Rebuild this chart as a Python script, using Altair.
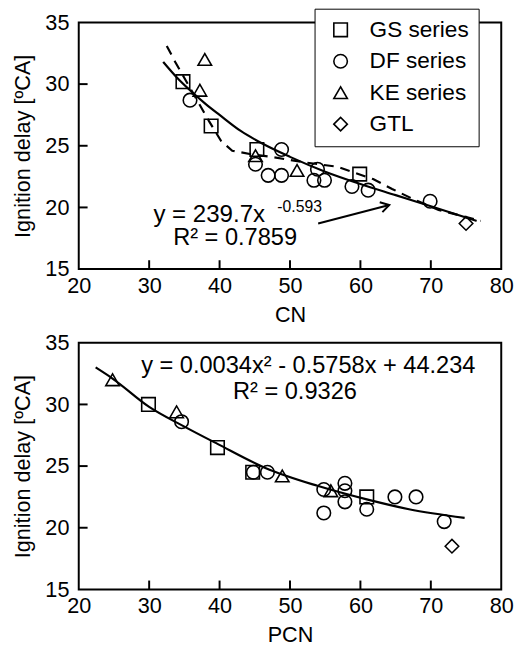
import altair as alt
import pandas as pd

FONT = "Liberation Sans"
series_names = ["GS series", "DF series", "KE series", "GTL"]
shape_range = ["square", "circle", "triangle-up", "diamond"]

# ---------- top panel: CN ----------
gs_cn = [34.8, 38.8, 45.3, 59.9]
gs_cn_id = [30.2, 26.6, 24.7, 22.7]
df_cn = [35.8, 45.1, 48.8, 46.9, 48.8, 53.9, 53.4, 54.9, 58.8, 61.1, 69.9]
df_cn_id = [28.7, 23.5, 24.7, 22.6, 22.6, 23.1, 22.2, 22.2, 21.7, 21.4, 20.5]
ke_cn = [37.9, 37.2, 45.1, 51.0]
ke_cn_id = [32.0, 29.5, 24.2, 23.0]
gtl_cn = [75.0]
gtl_cn_id = [18.7]

fit_cn_x = [32.0, 34.0, 36.0, 38.0, 40.0, 43.0, 46.0, 50.0, 55.0, 60.0, 65.0, 70.0, 76.5]
fit_cn_y = [31.8, 30.5, 29.4, 28.4, 27.5, 26.2, 25.2, 24.1, 22.9, 21.9, 21.0, 20.1, 18.9]

dash_cn_x = [32.5, 33.7, 36.0, 38.5, 40.2, 41.8, 44.6, 47.4, 51.5, 56.7, 61.8, 64.5, 67.4, 71.1, 77.1]
dash_cn_y = [33.1, 31.8, 29.5, 27.0, 25.4, 24.6, 24.3, 24.1, 23.7, 23.3, 22.3, 21.5, 20.7, 19.8, 18.9]

# ---------- bottom panel: PCN ----------
gs_pcn = [29.9, 39.7, 44.7, 60.9]
gs_pcn_id = [30.0, 26.5, 24.5, 22.5]
df_pcn = [34.6, 44.8, 46.8, 54.8, 54.8, 57.8, 57.8, 57.8, 60.9, 64.9, 67.9, 71.9]
df_pcn_id = [28.6, 24.5, 24.5, 23.1, 21.2, 23.6, 23.0, 22.1, 21.5, 22.5, 22.5, 20.5]
ke_pcn = [24.8, 33.9, 48.9, 55.8]
ke_pcn_id = [32.0, 29.4, 24.2, 23.0]
gtl_pcn = [73.0]
gtl_pcn_id = [18.5]

fit_pcn_x = [22.4, 24.8, 30.0, 35.0, 39.7, 46.5, 53.9, 60.9, 66.9, 74.8]
fit_pcn_y = [33.0, 32.1, 29.8, 28.2, 26.8, 24.85, 23.4, 22.3, 21.5, 20.8]

x_ticks = [20, 30, 40, 50, 60, 70, 80]
y_ticks = [15, 20, 25, 30, 35]
inner_x = [30, 40, 50, 60, 70]
inner_y = [20, 25, 30]


def pts(xs_list, ys_list):
    rows = []
    for name, xs, ys in zip(series_names, xs_list, ys_list):
        for a, b in zip(xs, ys):
            rows.append({"x": a, "y": b, "series": name})
    return pd.DataFrame(rows)


top_pts = pts([gs_cn, df_cn, ke_cn, gtl_cn], [gs_cn_id, df_cn_id, ke_cn_id, gtl_cn_id])
bot_pts = pts([gs_pcn, df_pcn, ke_pcn, gtl_pcn], [gs_pcn_id, df_pcn_id, ke_pcn_id, gtl_pcn_id])

W, H = 430, 251

xscale = alt.Scale(domain=[20, 80], nice=False, zero=False)
yscale = alt.Scale(domain=[15, 35], nice=False, zero=False)


def xaxis(title):
    return alt.Axis(values=x_ticks, tickSize=0, grid=False, domain=False, labelFont=FONT,
                    labelFontSize=22, labelColor="black", labelPadding=7, title=title,
                    titleFont=FONT, titleFontSize=22, titleFontWeight="normal",
                    titleColor="black", titlePadding=8, labelFlush=False)


yaxis = alt.Axis(values=y_ticks, tickSize=0, grid=False, domain=False, labelFont=FONT,
                 labelFontSize=22, labelColor="black", labelPadding=10,
                 title="Ignition delay [ºCA]", titleFont=FONT, titleFontSize=22,
                 titleFontWeight="normal", titleColor="black", titlePadding=11)


def panel(points, fit_x, fit_y, xtitle, legend):
    base_pts = alt.Chart(points).mark_point(filled=False, color="black", strokeWidth=1.6,
                                             size=190, opacity=1).encode(
        x=alt.X("x:Q", scale=xscale, axis=xaxis(xtitle)),
        y=alt.Y("y:Q", scale=yscale, axis=yaxis),
        shape=alt.Shape("series:N", scale=alt.Scale(domain=series_names, range=shape_range),
                        legend=legend),
    )
    fit = alt.Chart(pd.DataFrame({"x": fit_x, "y": fit_y})).mark_line(
        color="black", strokeWidth=2.2, interpolate="monotone").encode(
        x=alt.X("x:Q", scale=xscale), y=alt.Y("y:Q", scale=yscale))
    tx = alt.Chart(pd.DataFrame({"v": inner_x})).mark_rule(color="black", strokeWidth=2).encode(
        x=alt.X("v:Q", scale=xscale), y=alt.value(H), y2=alt.value(H - 9))
    ty = alt.Chart(pd.DataFrame({"v": inner_y})).mark_rule(color="black", strokeWidth=2).encode(
        y=alt.Y("v:Q", scale=yscale), x=alt.value(0), x2=alt.value(9))
    return fit, tx, ty, base_pts


legend = alt.Legend(orient="none", legendX=240, legendY=-14, title=None,
                    labelFont=FONT, labelFontSize=23, labelColor="black",
                    symbolSize=190, symbolStrokeWidth=1.6, symbolStrokeColor="black",
                    symbolFillColor="transparent", symbolType="square",
                    padding=10, symbolOffset=5, labelOffset=18, rowPadding=8,
                    strokeColor="black", fillColor="white", cornerRadius=0,
                    labelExpr="datum.label + '   '")

fit1, tx1, ty1, pts1 = panel(top_pts, fit_cn_x, fit_cn_y, "CN", legend)
dash1 = alt.Chart(pd.DataFrame({"x": dash_cn_x, "y": dash_cn_y})).mark_line(
    color="black", strokeWidth=2.2, strokeDash=[10, 7]).encode(
    x=alt.X("x:Q", scale=xscale), y=alt.Y("y:Q", scale=yscale))

ann_top = pd.DataFrame({"x": [30.6], "y": [19.4], "t": ["y = 239.7x"]})
sup_top = pd.DataFrame({"x": [48.2], "y": [20.0], "t": ["-0.593"]})
r2_top = pd.DataFrame({"x": [42.2], "y": [17.5], "t": ["R² = 0.7859"]})
t1 = alt.Chart(ann_top).mark_text(font=FONT, fontSize=24.5, align="left", baseline="middle",
                                   color="black").encode(
    x=alt.X("x:Q", scale=xscale), y=alt.Y("y:Q", scale=yscale), text="t:N")
t2 = alt.Chart(sup_top).mark_text(font=FONT, fontSize=16, align="left", baseline="middle",
                                   color="black").encode(
    x=alt.X("x:Q", scale=xscale), y=alt.Y("y:Q", scale=yscale), text="t:N")
t3 = alt.Chart(r2_top).mark_text(font=FONT, fontSize=24, align="center", baseline="middle",
                                  color="black").encode(
    x=alt.X("x:Q", scale=xscale), y=alt.Y("y:Q", scale=yscale), text="t:N")

arrow = pd.DataFrame({"x": [54.0], "y": [18.7], "x2": [64.1], "y2": [20.2]})
arr_line = alt.Chart(arrow).mark_rule(color="black", strokeWidth=2).encode(
    x=alt.X("x:Q", scale=xscale), y=alt.Y("y:Q", scale=yscale), x2="x2:Q", y2="y2:Q")
arr_head = alt.Chart(arrow).mark_point(shape="M-1,-0.6L0,0L-1,0.6", filled=False,
                                        color="black", strokeWidth=2, size=300, angle=345,
                                        opacity=1).encode(
    x=alt.X("x2:Q", scale=xscale), y=alt.Y("y2:Q", scale=yscale))

top = alt.layer(fit1, dash1, tx1, ty1, arr_line, arr_head, t1, t2, t3, pts1).properties(
    width=W, height=H)

fit2, tx2, ty2, pts2 = panel(bot_pts, fit_pcn_x, fit_pcn_y, "PCN", None)
ann_bot = pd.DataFrame({"x": [52.6, 50.7], "y": [33.1, 31.0],
                        "t": ["y = 0.0034x² - 0.5758x + 44.234", "R² = 0.9326"]})
tb = alt.Chart(ann_bot).mark_text(font=FONT, fontSize=24, align="center", baseline="middle",
                                   color="black").encode(
    x=alt.X("x:Q", scale=xscale), y=alt.Y("y:Q", scale=yscale), text="t:N")
bottom = alt.layer(fit2, tx2, ty2, tb, pts2).properties(width=W, height=H)

chart = alt.vconcat(top, bottom, spacing=5).properties(
    padding={"left": 2, "top": -6, "right": 0, "bottom": 0}
).configure_view(stroke="black", strokeWidth=2).configure_concat(spacing=5)

chart.save("out.html", embed_options={"renderer": "svg", "actions": False})
